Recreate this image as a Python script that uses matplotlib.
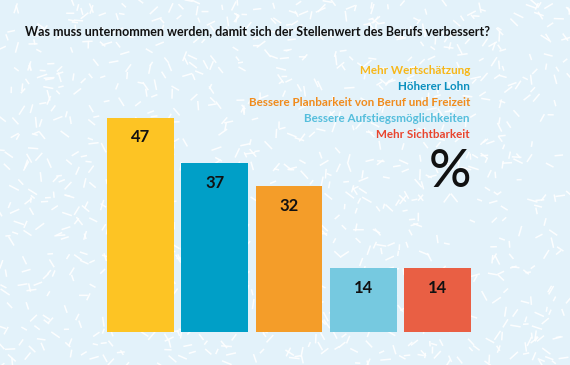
import numpy as np
import matplotlib.pyplot as plt
from matplotlib.collections import LineCollection

plt.rcParams['font.family'] = ['Lato', 'DejaVu Sans']

categories = ["Mehr Wertschätzung", "Höherer Lohn", "Bessere Planbarkeit von Beruf und Freizeit",
              "Bessere Aufstiegsmöglichkeiten", "Mehr Sichtbarkeit"]
values = [47, 37, 32, 14, 14]
bar_colors = ["#FDC424", "#009FC7", "#F49D29", "#76C9E0", "#E95F44"]
text_colors = ["#F7B719", "#0A8FBE", "#F08B1C", "#55BEDC", "#E9452E"]
title = "Was muss unternommen werden, damit sich der Stellenwert des Berufs verbessert?"

bg = "#E3F2FA"
fig = plt.figure(figsize=(5.7, 3.65), dpi=100, facecolor=bg)

# decorative white dash pattern in the background
bgax = fig.add_axes([0, 0, 1, 1], zorder=0)
bgax.set_xlim(0, 570)
bgax.set_ylim(0, 365)
bgax.axis("off")
rng = np.random.default_rng(3)
n = 1100
cx = rng.uniform(0, 570, n)
cy = rng.uniform(0, 365, n)
ang = rng.uniform(0, np.pi, n)
ln = rng.uniform(5, 11, n)
segs = [[(x - l / 2 * np.cos(a), y - l / 2 * np.sin(a)), (x + l / 2 * np.cos(a), y + l / 2 * np.sin(a))]
        for x, y, a, l in zip(cx, cy, ang, ln)]
bgax.add_collection(LineCollection(segs, colors="white", linewidths=1.1, alpha=0.9))

ax = fig.add_axes([0.1814, 0.0904, 0.651, 0.6247], zorder=1)
ax.patch.set_alpha(0)
x = np.arange(len(values))
ax.bar(x, values, width=0.9, color=bar_colors, linewidth=0)
for i, v in enumerate(values):
    ax.text(i, v - 4.3, str(v), ha="center", va="center", fontsize=12, fontweight="bold", color="#111111")
ax.set_xlim(-0.5, 4.5)
ax.set_ylim(0, 50)
ax.axis("off")

fig.text(25 / 570, 1 - 31 / 365, title, fontsize=9, fontweight="bold", color="#111111",
         ha="left", va="center", zorder=3)

ys = [71, 87, 103, 119, 135]
for lab, c, y in zip(categories, text_colors, ys):
    fig.text(470 / 570, 1 - y / 365, lab, fontsize=8.4, fontweight="bold", color=c,
             ha="right", va="center", zorder=3)
fig.text(471 / 570, 1 - 172 / 365, "%", fontsize=38, fontweight="medium", color="#111111",
         ha="right", va="center", zorder=3)

fig.savefig("out.png", dpi=100, facecolor=bg)
